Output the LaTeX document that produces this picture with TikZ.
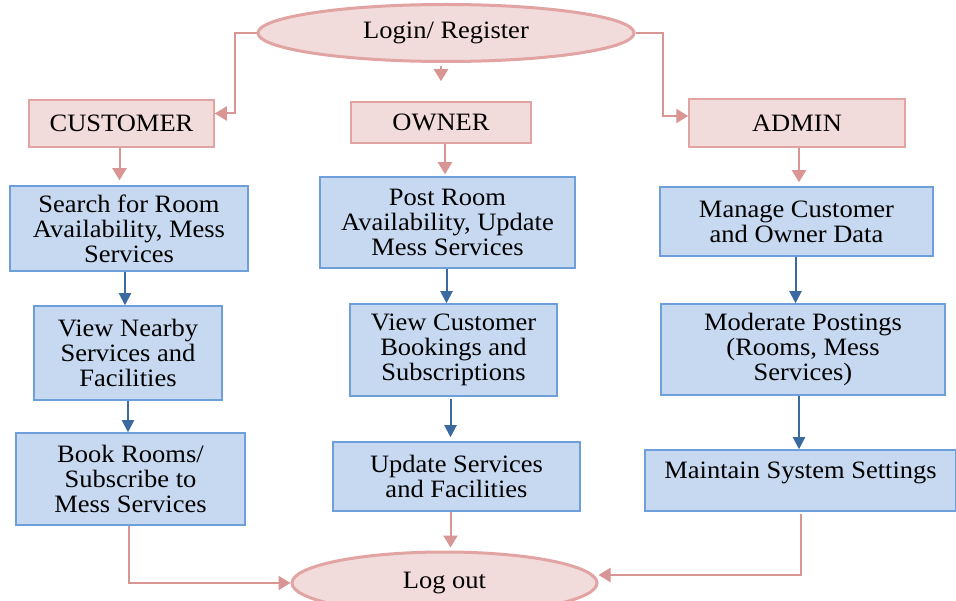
\documentclass[tikz,border=0pt]{standalone}
\usepackage{fontspec}
\setmainfont{Liberation Serif}[FakeStretch=1.06]
\usetikzlibrary{arrows.meta,shapes.geometric}
\definecolor{pkfill}{HTML}{F2DCDB}
\definecolor{pkdraw}{HTML}{E2A3A3}
\definecolor{pkline}{HTML}{D99594}
\definecolor{blfill}{HTML}{C6D9F1}
\definecolor{bldraw}{HTML}{6E9FDB}
\definecolor{blline}{HTML}{3B6AA0}
\tikzset{
  txt/.style={font=\fontsize{25}{25}\selectfont, align=center, inner sep=0pt},
  pinkbox/.style={txt, draw=pkdraw, fill=pkfill, line width=1.5pt, rectangle},
  bluebox/.style={txt, draw=bldraw, fill=blfill, line width=1.5pt, rectangle},
  oval/.style={txt, ellipse, draw=pkdraw, fill=pkfill, line width=3pt},
  pk/.style={draw=pkline, line width=2pt, -{Triangle[length=12pt,width=14pt]}},
  bl/.style={draw=blline, line width=2pt, -{Triangle[length=12pt,width=12pt]}},
}
\begin{document}
\begin{tikzpicture}[x=1pt,y=-1pt]
\useasboundingbox (0,0) rectangle (956,601);
\fill[white] (0,0) rectangle (956,601);
\node[oval, minimum width=376pt, minimum height=57pt] (login) at (446,33) {Login/ Register};
\node[pinkbox, minimum width=185pt, minimum height=47pt] (cust) at (121.5,123.5) {CUSTOMER};
\node[pinkbox, minimum width=180pt, minimum height=41pt] (owner) at (441,122.5) {OWNER};
\node[pinkbox, minimum width=216pt, minimum height=48pt] (admin) at (797,123) {ADMIN};
\node[bluebox, minimum width=238pt, minimum height=85pt] (search) at (129,228.5) {Search for Room\\Availability, Mess\\Services};
\node[bluebox, minimum width=255pt, minimum height=91pt] (post) at (447.5,222.5) {Post Room\\Availability, Update\\Mess Services};
\node[bluebox, minimum width=273pt, minimum height=69pt] (manage) at (796.5,221.5) {Manage Customer\\and Owner Data};
\node[bluebox, minimum width=188pt, minimum height=94pt] (nearby) at (128,353) {View Nearby\\Services and\\Facilities};
\node[bluebox, minimum width=207pt, minimum height=92pt] (viewc) at (453.5,350) {View Customer\\Bookings and\\Subscriptions};
\node[bluebox, minimum width=284pt, minimum height=91pt] (moder) at (803,349.5) {Moderate Postings\\(Rooms, Mess\\Services)};
\node[bluebox, minimum width=229pt, minimum height=92pt] (book) at (130.5,479) {Book Rooms/\\Subscribe to\\Mess Services};
\node[bluebox, minimum width=247pt, minimum height=69pt] (update) at (456.5,476.5) {Update Services\\and Facilities};
\node[bluebox, minimum width=311pt, text height=28pt, text depth=33pt] (maint) at (800.5,480.5) {Maintain System Settings};
\node[oval, minimum width=305pt, minimum height=62pt] (logout) at (444.5,583) {Log out};
% pink connectors
\draw[pk] (login.west) -- ++(-22,0) |- ([yshift=10pt]cust.east);
\draw[pk] (login.east) -- ++(27,0) |- ([yshift=7pt]admin.west);
\draw[pk, shorten <=3pt, shorten >=20pt] ([xshift=-5pt]login.south) -- ([xshift=-5pt]login.south |- owner.north);
\draw[pk, shorten >=5pt] ([xshift=-2pt]cust.south) -- ([xshift=-2pt]cust.south |- search.north);
\draw[pk, shorten >=2pt] ([xshift=4pt]owner.south) -- ([xshift=4pt]owner.south |- post.north);
\draw[pk, shorten >=4pt] ([xshift=2pt]admin.south) -- ([xshift=2pt]admin.south |- manage.north);
% blue connectors
\draw[bl] ([xshift=-4pt]search.south) -- ([xshift=-4pt]search.south |- nearby.north);
\draw[bl] (nearby.south) -- (nearby.south |- book.north);
\draw[bl] ([xshift=-1pt]post.south) -- ([xshift=-1pt]post.south |- viewc.north);
\draw[bl, shorten <=2pt, shorten >=4pt] ([xshift=-3pt]viewc.south) -- ([xshift=-3pt]viewc.south |- update.north);
\draw[bl] ([xshift=-1pt]manage.south) -- ([xshift=-1pt]manage.south |- moder.north);
\draw[bl] ([xshift=-4pt]moder.south) -- ([xshift=-4pt]moder.south |- maint.north);
% to log out
\draw[pk] ([xshift=-2pt]book.south) |- ([yshift=0pt]logout.west);
\draw[pk, shorten >=3pt] ([xshift=-6pt]update.south) -- ([xshift=-6pt]update.south |- logout.north);
\draw[pk] ([yshift=-2pt]maint.south) |- ([yshift=8pt]logout.east);
\end{tikzpicture}
\end{document}
